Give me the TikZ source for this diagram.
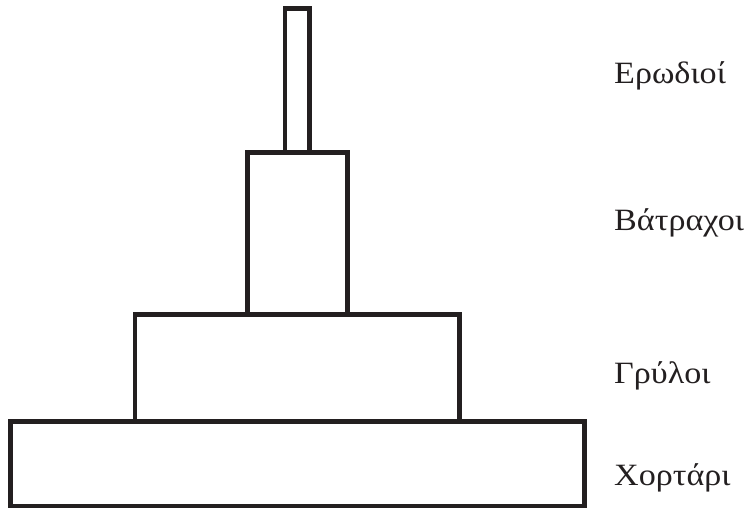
\documentclass[tikz,border=0pt]{standalone}
\usepackage{fontspec}
\setmainfont[FakeStretch=1.1]{Liberation Serif}
\definecolor{ink}{HTML}{231F20}
\tikzset{
  level/.style={draw=ink, line width=4.7pt, inner sep=0pt, outer sep=0pt, rectangle, anchor=center},
  tag/.style={anchor=base west, inner sep=0pt, text=ink, font=\fontsize{31}{36}\selectfont}
}
\begin{document}
\begin{tikzpicture}[x=1pt, y=-1pt]
  \useasboundingbox (0,0) rectangle (752,508);
  % trophic levels, widest at the bottom
  \node[level, minimum width=574.2pt, minimum height=84.7pt] (grass) at (297.4,463.7) {};
  \node[level, minimum width=324.8pt, minimum height=106.5pt] (crickets) at (297.4,368) {};
  \node[level, minimum width=100pt, minimum height=162.3pt] (frogs) at (297.7,233.7) {};
  \node[level, minimum width=24.8pt, minimum height=143.8pt] (herons) at (297.4,80.6) {};
  % labels
  \node[tag] (lherons) at (614,83.5) {Ερωδιοί};
  \node[tag] (lfrogs) at (614,230.5) {Βάτραχοι};
  \node[tag] (lcrickets) at (614,383.5) {Γρύλοι};
  \node[tag] (lgrass) at (614,485) {Χορτάρι};
\end{tikzpicture}
\end{document}
